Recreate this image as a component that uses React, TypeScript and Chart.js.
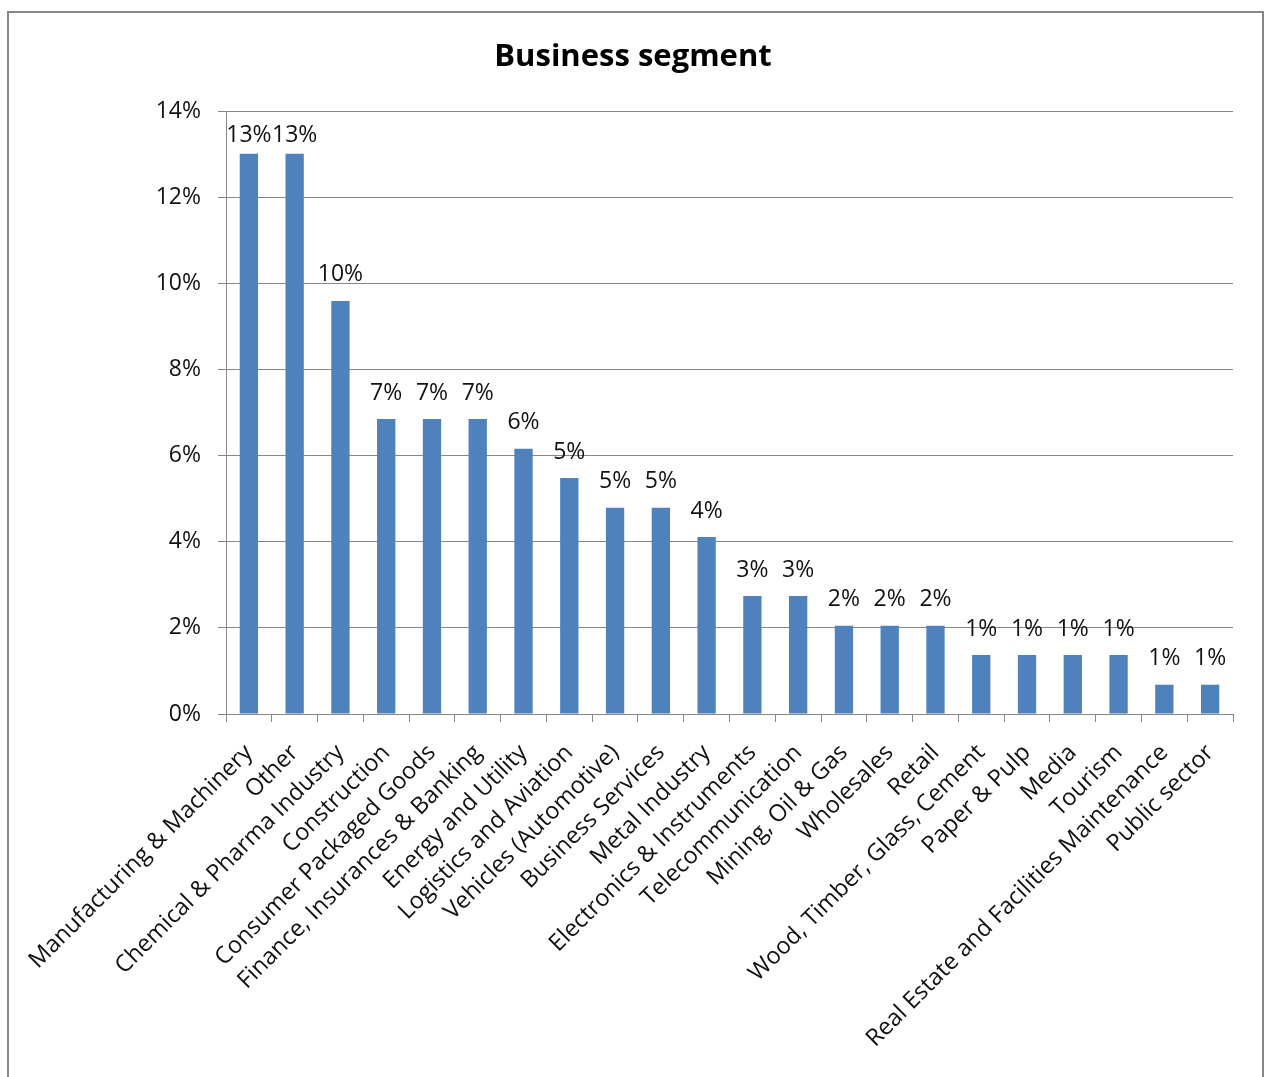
import { useEffect, useRef } from "react";
import { Chart, registerables } from "chart.js";

Chart.register(...registerables);

// Share of customers per business segment, in percent
const segments = [
  "Manufacturing & Machinery",
  "Other",
  "Chemical & Pharma Industry",
  "Construction",
  "Consumer Packaged Goods",
  "Finance, Insurances & Banking",
  "Energy and Utility",
  "Logistics and Aviation",
  "Vehicles (Automotive)",
  "Business Services",
  "Metal Industry",
  "Electronics & Instruments",
  "Telecommunication",
  "Mining, Oil & Gas",
  "Wholesales",
  "Retail",
  "Wood, Timber, Glass, Cement",
  "Paper & Pulp",
  "Media",
  "Tourism",
  "Real Estate and Facilities Maintenance",
  "Public sector",
];

const shares = [
  13.01, 13.01, 9.59, 6.85, 6.85, 6.85, 6.16, 5.48, 4.79, 4.79, 4.11, 2.74,
  2.74, 2.05, 2.05, 2.05, 1.37, 1.37, 1.37, 1.37, 0.68, 0.68,
];

const TITLE = "Business segment";
const Y_MIN = 0;
const Y_MAX = 14;
const Y_STEP = 2;

const FONT_FAMILY = "'Open Sans', 'DejaVu Sans', sans-serif";
const TEXT_COLOR = "#111";
const LINE_COLOR = "#878787";
const BAR_COLOR = "#4F81BD";

// Frame, title and the value labels above each bar
const decorations = {
  id: "decorations",
  beforeDraw(chart: any) {
    const { ctx, width, height } = chart;
    ctx.save();
    ctx.fillStyle = "#fff";
    ctx.fillRect(0, 0, width, height);
    ctx.strokeStyle = LINE_COLOR;
    ctx.lineWidth = 2;
    ctx.strokeRect(8, 12, 1255, height + 20);
    ctx.restore();
  },
  afterDatasetsDraw(chart: any) {
    const { ctx, chartArea } = chart;
    const meta = chart.getDatasetMeta(0);
    const data = chart.data.datasets[0].data as number[];
    ctx.save();
    ctx.font = `23px ${FONT_FAMILY}`;
    ctx.fillStyle = TEXT_COLOR;
    ctx.textAlign = "center";
    ctx.textBaseline = "middle";
    meta.data.forEach((bar: any, i: number) => {
      const y = Math.max(bar.y - 26, chartArea.top + 24);
      ctx.fillText(`${Math.round(data[i])}%`, bar.x, y);
    });
    ctx.restore();
  },
  afterDraw(chart: any) {
    const { ctx, width } = chart;
    ctx.save();
    ctx.font = `bold 31px ${FONT_FAMILY}`;
    ctx.fillStyle = "#000";
    ctx.textAlign = "center";
    ctx.textBaseline = "middle";
    ctx.fillText(TITLE, width / 2, 57);
    ctx.restore();
  },
};

export default function App() {
  const canvasRef = useRef<HTMLCanvasElement | null>(null);

  useEffect(() => {
    if (!canvasRef.current) return;
    const chart = new Chart(canvasRef.current, {
      type: "bar",
      data: {
        labels: segments,
        datasets: [
          {
            data: shares,
            backgroundColor: BAR_COLOR,
            barPercentage: 0.4,
            categoryPercentage: 1,
          },
        ],
      },
      options: {
        animation: false,
        responsive: true,
        maintainAspectRatio: false,
        layout: { padding: { top: 111, right: 33, left: 0, bottom: 0 } },
        plugins: {
          legend: { display: false },
          title: { display: false },
          tooltip: { enabled: false },
        },
        scales: {
          x: {
            grid: {
              offset: true,
              drawOnChartArea: false,
              color: LINE_COLOR,
              tickLength: 8,
            },
            border: { color: LINE_COLOR },
            ticks: {
              autoSkip: false,
              minRotation: 45,
              maxRotation: 45,
              padding: 17,
              color: TEXT_COLOR,
              font: { family: FONT_FAMILY, size: 23.5 },
            },
            afterFit: (scale: any) => {
              scale.height = 363;
            },
          },
          y: {
            min: Y_MIN,
            max: Y_MAX,
            grid: { color: LINE_COLOR, tickLength: 8 },
            border: { color: LINE_COLOR },
            ticks: {
              stepSize: Y_STEP,
              padding: 17,
              color: TEXT_COLOR,
              font: { family: FONT_FAMILY, size: 23 },
              callback: (v: any) => `${v}%`,
            },
            afterFit: (scale: any) => {
              scale.width = 226;
            },
          },
        },
      },
      plugins: [decorations],
    });
    return () => chart.destroy();
  }, []);

  return (
    <div
      style={{
        position: "absolute",
        left: 0,
        top: 0,
        width: 1266,
        height: 1077,
      }}
    >
      <canvas ref={canvasRef} />
    </div>
  );
}
